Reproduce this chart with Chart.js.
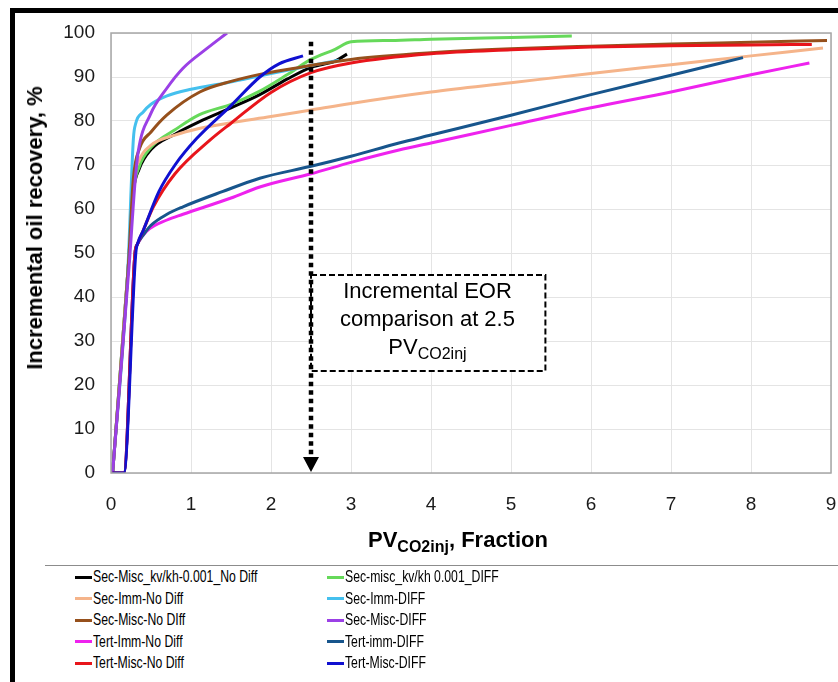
<!DOCTYPE html>
<html>
<head>
<meta charset="utf-8">
<script src="https://cdn.jsdelivr.net/npm/chart.js@4.4.1/dist/chart.umd.min.js"></script>
<style>
  body { margin: 0; background: #fff; font-family: "Liberation Sans", Arial, sans-serif; }
  #wrap { position: relative; width: 838px; height: 682px; overflow: hidden; background: #fff; }
  #chart { position: absolute; left: 0; top: 0; }
  .bar { position: absolute; background: #000; }
  #ytitle { position: absolute; left: 35px; top: 228px; transform: translate(-50%, -50%) rotate(-90deg);
            white-space: nowrap; font-weight: bold; font-size: 22px; color: #000; }
  #xtitle { position: absolute; left: 368px; top: 529px; white-space: nowrap; font-weight: bold;
            font-size: 22px; line-height: 22px; color: #000; }
  #xtitle span, #note span { position: relative; top: 5px; font-size: 16px; }
  #note { position: absolute; left: 310px; top: 277px; width: 235px; text-align: center;
          font-size: 22px; line-height: 28px; color: #000; }
  #sep { position: absolute; left: 45px; top: 565px; width: 793px; height: 1px; background: #8c8c8c; }
  .sw { position: absolute; width: 17px; height: 3px; }
  .lt { position: absolute; white-space: nowrap; font-size: 17px; line-height: 20px; color: #000;
        transform: scaleX(0.72); transform-origin: left center; }
</style>
</head>
<body>
<div id="wrap">
  <div class="bar" style="left:10px;top:8px;width:828px;height:5px"></div>
  <div class="bar" style="left:10px;top:8px;width:5px;height:674px"></div>
  <canvas id="chart" width="838" height="560"></canvas>
  <div id="ytitle">Incremental oil recovery, %</div>
  <div id="xtitle">PV<span>CO2inj</span>, Fraction</div>
  <div id="note">Incremental EOR<br>comparison at 2.5<br>PV<span>CO2inj</span></div>
  <div id="sep"></div>
  <div id="legend"></div>
</div>
<script>
// series values (x = PV CO2 injected, y = incremental recovery %)
const secMiscKvNoDiffX = [0.02, 0.22, 0.28, 0.35, 0.5, 0.8, 1.1, 1.5, 1.86, 2.2, 2.5, 2.8, 2.95];
const secMiscKvNoDiffY = [0, 48, 64, 69, 73.5, 77, 79.8, 83, 86, 89.5, 92.2, 93.6, 95.2];

const secMiscKvDiffX = [0.02, 0.22, 0.28, 0.35, 0.5, 0.8, 1.1, 1.5, 1.86, 2.2, 2.5, 2.8, 3.0, 3.5, 4, 5, 5.76];
const secMiscKvDiffY = [0, 48, 64, 69.5, 74, 78, 81.4, 83.8, 86.8, 90.5, 94, 96.3, 98, 98.3, 98.6, 99, 99.3];

const secImmNoDiffX = [0.02, 0.22, 0.28, 0.35, 0.5, 0.8, 1.1, 1.5, 2, 2.5, 3, 4, 5, 6, 7, 8, 8.9];
const secImmNoDiffY = [0, 48, 66, 71, 74.5, 76.8, 78.3, 79.6, 81, 82.5, 84, 86.6, 88.7, 90.8, 92.8, 94.8, 96.6];

const secImmDiffX = [0.02, 0.21, 0.28, 0.31, 0.4, 0.5, 0.7, 1, 1.45, 2, 2.5, 2.85];
const secImmDiffY = [0, 46, 76, 79.5, 82, 83.8, 85.7, 87.2, 88.7, 90.8, 92.6, 93.8];

const secMiscNoDiffX = [0.02, 0.22, 0.28, 0.36, 0.5, 0.7, 1.11, 1.5, 1.86, 2.5, 3, 4, 5, 6, 7, 8, 8.95];
const secMiscNoDiffY = [0, 48, 67, 73.9, 77.5, 81.4, 86.6, 89, 90.6, 92.6, 94, 95.5, 96.4, 97, 97.5, 97.9, 98.3];

const secMiscDiffX = [0.02, 0.23, 0.3, 0.34, 0.49, 0.7, 0.9, 1.2, 1.45];
const secMiscDiffY = [0, 48, 66, 73, 81.4, 87.5, 92, 96.5, 100];

const tertImmNoDiffX = [0.02, 0.16, 0.3, 0.33, 0.45, 0.7, 0.9, 1.5, 1.86, 2.5, 3, 3.6, 4, 5, 6, 7, 8, 8.73];
const tertImmNoDiffY = [0, 0, 50, 52, 55, 57.5, 58.8, 62.5, 65, 68, 70.6, 73.4, 75, 79, 83, 86.6, 90.5, 93.2];

const tertImmDiffX = [0.02, 0.16, 0.3, 0.33, 0.4, 0.5, 0.7, 0.9, 1.4, 1.86, 2.5, 3, 3.6, 4, 5, 6, 7, 7.9];
const tertImmDiffY = [0, 0, 50, 52, 54, 56.3, 58.8, 60.5, 64, 67, 69.7, 72, 75, 76.8, 81.3, 86, 90.4, 94.4];

const tertMiscNoDiffX = [0.02, 0.16, 0.3, 0.33, 0.4, 0.53, 0.8, 1.24, 1.5, 2, 2.5, 3, 4, 5, 6, 7, 8, 8.76];
const tertMiscNoDiffY = [0, 0, 50, 52, 55, 60.5, 68, 75.7, 79.5, 86.5, 91, 93.2, 95.3, 96.2, 96.8, 97.1, 97.3, 97.4];

const tertMiscDiffX = [0.02, 0.16, 0.31, 0.34, 0.4, 0.6, 0.8, 1.07, 1.5, 1.86, 2.1, 2.4];
const tertMiscDiffY = [0, 0, 50, 52.5, 55, 64, 70, 76, 83.5, 90, 93, 94.8];

const seriesNames = [
  "Sec-Misc_kv/kh-0.001_No Diff", "Sec-misc_kv/kh 0.001_DIFF",
  "Sec-Imm-No Diff", "Sec-Imm-DIFF",
  "Sec-Misc-No DIff", "Sec-Misc-DIFF",
  "Tert-Imm-No Diff", "Tert-imm-DIFF",
  "Tert-Misc-No Diff", "Tert-Misc-DIFF"
];
const seriesX = [secMiscKvNoDiffX, secMiscKvDiffX, secImmNoDiffX, secImmDiffX, secMiscNoDiffX,
                 secMiscDiffX, tertImmNoDiffX, tertImmDiffX, tertMiscNoDiffX, tertMiscDiffX];
const seriesY = [secMiscKvNoDiffY, secMiscKvDiffY, secImmNoDiffY, secImmDiffY, secMiscNoDiffY,
                 secMiscDiffY, tertImmNoDiffY, tertImmDiffY, tertMiscNoDiffY, tertMiscDiffY];
const seriesColors = ["#000000", "#66d95a", "#f5b48a", "#45c0ee", "#96501c",
                      "#9b40e6", "#ee22ee", "#17558c", "#e8151b", "#1010d0"];

const xTicks = [0, 1, 2, 3, 4, 5, 6, 7, 8, 9];
const yTicks = [0, 10, 20, 30, 40, 50, 60, 70, 80, 90, 100];

const noteX = [2.5, 5.43];   // dashed note box, in data units
const noteY = [45, 23.2];
const arrowX = 2.5;
const arrowY = [98, 0];

// plot frame, note box and dotted arrow
const overlay = {
  id: "overlay",
  afterDatasetsDraw(chart) {
    const ctx = chart.ctx;
    const xs = chart.scales.x, ys = chart.scales.y;
    const a = chart.chartArea;
    ctx.save();
    ctx.strokeStyle = "#a6a6a6";
    ctx.lineWidth = 1.5;
    ctx.strokeRect(a.left, a.top, a.right - a.left, a.bottom - a.top);

    const bx1 = xs.getPixelForValue(noteX[0]), bx2 = xs.getPixelForValue(noteX[1]);
    const by1 = ys.getPixelForValue(noteY[0]), by2 = ys.getPixelForValue(noteY[1]);
    ctx.fillStyle = "#fff";
    ctx.fillRect(bx1, by1, bx2 - bx1, by2 - by1);
    ctx.setLineDash([6, 3]);
    ctx.lineWidth = 2;
    ctx.strokeStyle = "#000";
    ctx.strokeRect(bx1, by1, bx2 - bx1, by2 - by1);

    const ax = xs.getPixelForValue(arrowX);
    const top = ys.getPixelForValue(arrowY[0]);
    const tip = ys.getPixelForValue(arrowY[1]) - 1;
    ctx.setLineDash([4.5, 4]);
    ctx.lineWidth = 4.5;
    ctx.beginPath();
    ctx.moveTo(ax, top);
    ctx.lineTo(ax, tip - 14);
    ctx.stroke();
    ctx.setLineDash([]);
    ctx.fillStyle = "#000";
    ctx.beginPath();
    ctx.moveTo(ax - 8, tip - 15);
    ctx.lineTo(ax + 8, tip - 15);
    ctx.lineTo(ax, tip);
    ctx.closePath();
    ctx.fill();
    ctx.restore();
  }
};

const datasets = seriesNames.map((name, i) => ({
  label: name,
  data: seriesX[i].map((x, k) => ({ x: x, y: seriesY[i][k] })),
  borderColor: seriesColors[i],
  backgroundColor: seriesColors[i],
  borderWidth: 3,
  pointRadius: 0,
  fill: false,
  cubicInterpolationMode: "monotone",
  order: seriesNames.length - i
}));

new Chart(document.getElementById("chart").getContext("2d"), {
  type: "line",
  data: { datasets: datasets },
  options: {
    responsive: false,
    animation: false,
    layout: { padding: { left: 15, top: 33, right: 7, bottom: 0 } },
    plugins: { legend: { display: false }, tooltip: { enabled: false } },
    scales: {
      x: {
        type: "linear",
        min: 0, max: 9,
        afterFit: (s) => { s.height = 87; s.paddingLeft = 0; s.paddingRight = 0; },
        afterBuildTicks: (s) => { s.ticks = xTicks.map((v) => ({ value: v })); },
        grid: { color: "#e4e4e4", drawTicks: false },
        border: { display: false },
        ticks: { padding: 20, color: "#1a1a1a", font: { family: "Liberation Sans", size: 19 } }
      },
      y: {
        min: 0, max: 100,
        afterFit: (s) => { s.width = 96; s.paddingTop = 0; s.paddingBottom = 0; },
        afterBuildTicks: (s) => { s.ticks = yTicks.map((v) => ({ value: v })); },
        grid: { color: "#e4e4e4", drawTicks: false },
        border: { display: false },
        ticks: { padding: 16, color: "#1a1a1a", font: { family: "Liberation Sans", size: 19 } }
      }
    }
  },
  plugins: [overlay]
});

// legend, two columns in series order
const legend = document.getElementById("legend");
seriesNames.forEach((name, i) => {
  const col = i % 2, row = Math.floor(i / 2);
  const cy = 577 + row * 21.5;
  const sx = col === 0 ? 75 : 327;
  const sw = document.createElement("div");
  sw.className = "sw";
  sw.style.left = sx + "px";
  sw.style.top = (cy - 1.5) + "px";
  sw.style.background = seriesColors[i];
  legend.appendChild(sw);
  const t = document.createElement("div");
  t.className = "lt";
  t.style.left = (sx + 18) + "px";
  t.style.top = (cy - 10) + "px";
  t.textContent = name;
  legend.appendChild(t);
});
</script>
</body>
</html>
